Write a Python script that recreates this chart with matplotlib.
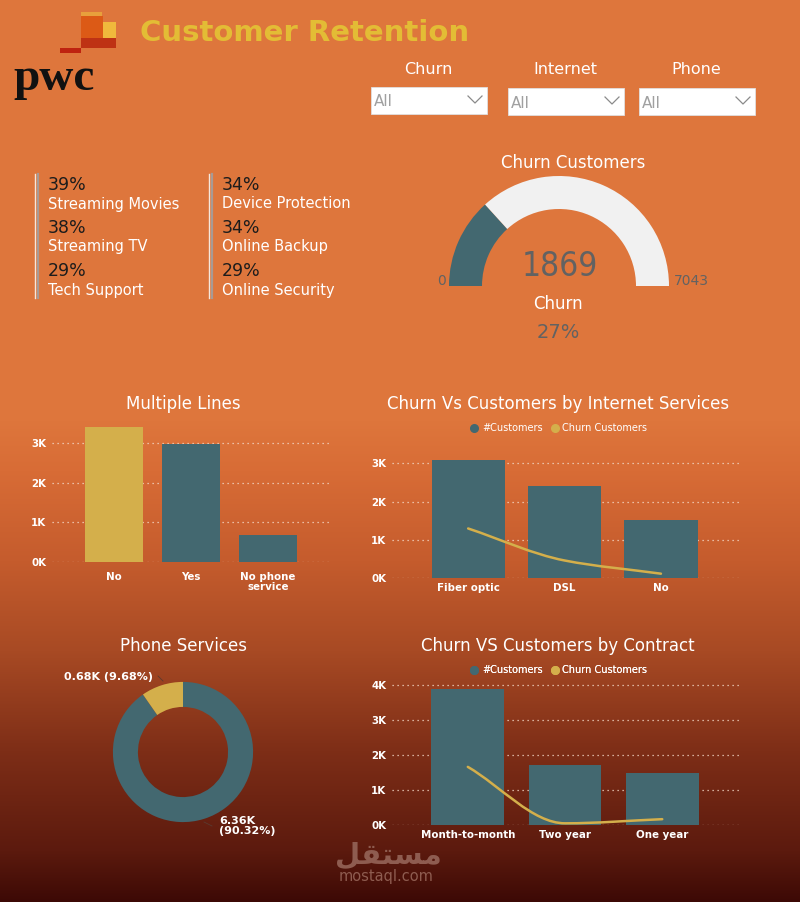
import numpy as np
import matplotlib
matplotlib.use("Agg")
import matplotlib.pyplot as plt
from matplotlib.patches import Wedge, Rectangle, PathPatch
from matplotlib.path import Path
from matplotlib.lines import Line2D
from matplotlib.ticker import FuncFormatter, MultipleLocator

W, H = 800, 902

# ---- data ----
kpi_left = [("39%", "Streaming Movies"), ("38%", "Streaming TV"), ("29%", "Tech Support")]
kpi_right = [("34%", "Device Protection"), ("34%", "Online Backup"), ("29%", "Online Security")]

slicers = ["Churn", "Internet", "Phone"]

churn_customers = 1869
total_customers = 7043
churn_rate = "27%"

ml_cats = ["No", "Yes", "No phone\nservice"]
ml_vals = [3390, 2971, 682]

inet_cats = ["Fiber optic", "DSL", "No"]
inet_customers = [3096, 2421, 1526]
inet_churn = [1297, 459, 113]

phone_vals = [6361, 682]  # Yes, No

contract_cats = ["Month-to-month", "Two year", "One year"]
contract_customers = [3875, 1695, 1473]
contract_churn = [1655, 48, 166]

TEAL = "#436870"
GOLD = "#D4AF4B"
WHITE = "#FFFFFF"
GREY = "#626262"


def rect(x0, y0, x1, y1):
    return [x0 / W, 1 - y1 / H, (x1 - x0) / W, (y1 - y0) / H]


def smooth_line(ax, xs, ys, color):
    # monotone cubic drawn as bezier segments
    xs = np.asarray(xs, float)
    ys = np.asarray(ys, float)
    d = np.diff(ys) / np.diff(xs)
    m = np.zeros(len(ys))
    m[0], m[-1] = d[0], d[-1]
    for i in range(1, len(ys) - 1):
        if d[i - 1] * d[i] <= 0:
            m[i] = 0
        else:
            m[i] = 2 * d[i - 1] * d[i] / (d[i - 1] + d[i])
    verts = [(xs[0], ys[0])]
    codes = [Path.MOVETO]
    for i in range(len(xs) - 1):
        h = (xs[i + 1] - xs[i]) / 3
        verts += [(xs[i] + h, ys[i] + m[i] * h),
                  (xs[i + 1] - h, ys[i + 1] - m[i + 1] * h),
                  (xs[i + 1], ys[i + 1])]
        codes += [Path.CURVE4] * 3
    ax.add_patch(PathPatch(Path(verts, codes), fill=False, edgecolor=color,
                           lw=1.8, capstyle="round", zorder=4))


def kfmt(v, pos):
    return f"{v / 1000:.0f}K"


def style_bar_ax(ax, ylim, step, xlim, cats, xpad):
    ax.set_facecolor("none")
    for s in ax.spines.values():
        s.set_visible(False)
    ax.set_ylim(*ylim)
    ax.set_xlim(*xlim)
    ax.yaxis.set_major_locator(MultipleLocator(step))
    ax.yaxis.set_major_formatter(FuncFormatter(kfmt))
    ax.grid(axis="y", color="#F3D9C8", linestyle=(0, (1, 3)), lw=0.9)
    ax.set_axisbelow(True)
    ax.set_xticks(range(len(cats)))
    ax.set_xticklabels(cats, linespacing=1.0)
    ax.tick_params(length=0, colors=WHITE, labelsize=7.4)
    ax.tick_params(axis="x", pad=xpad)
    ax.tick_params(axis="y", pad=4)
    for lab in ax.get_xticklabels() + ax.get_yticklabels():
        lab.set_fontweight("bold")


fig = plt.figure(figsize=(W / 100, H / 100), dpi=100)

# ---- background + pixel overlay ----
ov = fig.add_axes([0, 0, 1, 1])
ov.set_xlim(0, W)
ov.set_ylim(H, 0)
ov.axis("off")
stops_y = [0, 420, 470, 560, 650, 750, 850, 902]
stops_c = np.array([(222, 118, 60), (222, 118, 60), (216, 108, 54), (197, 92, 45),
                    (168, 74, 36), (126, 46, 23), (92, 26, 14), (60, 9, 5)]) / 255
yy = np.arange(H)
grad = np.stack([np.interp(yy, stops_y, stops_c[:, k]) for k in range(3)], axis=-1)
ov.imshow(grad[:, None, :], extent=[0, W, H, 0], aspect="auto", zorder=0)

# ---- logo ----
for (x0, y0, x1, y1, c) in [(81, 12, 102, 16, "#E8A03C"), (81, 16, 103, 38, "#DC5A16"),
                            (103, 22, 116, 38, "#F0B93C"), (81, 38, 116, 48, "#BE3214"),
                            (60, 48, 81, 53, "#BE2310")]:
    ov.add_patch(Rectangle((x0, y0), x1 - x0, y1 - y0, color=c, lw=0, zorder=2))
ov.text(13, 79, "pwc", fontsize=34, fontweight="bold", family="Liberation Serif",
        color="#111111", va="center", ha="left", zorder=3)
ov.text(140, 33, "Customer Retention", fontsize=21, fontweight="bold", color="#E3BC35",
        va="center", ha="left", zorder=3)

# ---- slicers ----
slicer_x = [(371, 487, 87), (508, 624, 88), (639, 755, 88)]
for name, (x0, x1, y0) in zip(slicers, slicer_x):
    ov.text((x0 + x1) / 2 - 1, 70, name, fontsize=11.5, color=WHITE, ha="center", va="center", zorder=3)
    ov.add_patch(Rectangle((x0, y0), x1 - x0, 27, facecolor=WHITE, edgecolor="#E0E0E0", lw=0.6, zorder=2))
    ov.text(x0 + 3, y0 + 15, "All", fontsize=11, color="#A0A0A0", ha="left", va="center", zorder=3)
    ov.plot([x1 - 19, x1 - 12, x1 - 5], [y0 + 9, y0 + 16, y0 + 9], color="#8A8A8A", lw=0.9, zorder=3)

# ---- KPI cards ----
for x, items in [(48, kpi_left), (222, kpi_right)]:
    ov.plot([x - 13, x - 13], [174, 298], color="#F6E7DC", lw=1.0, zorder=2)
    ov.plot([x - 10, x - 10], [174, 298], color="#A89A94", lw=1.6, zorder=2)
    for i, (pct, lab) in enumerate(items):
        y = 185 + i * 43
        ov.text(x, y, pct, fontsize=12.5, color="#1C1C1C", ha="left", va="center", zorder=3)
        ov.text(x, y + 19, lab, fontsize=10.5, color=WHITE, ha="left", va="center", zorder=3)

# ---- gauge ----
cx, cy, r, wdt = 559, 286, 110, 33
frac = churn_customers / total_customers
ov.add_patch(Wedge((cx, cy), r, 180, 180 + 180 * frac, width=wdt, color=TEAL, lw=0, zorder=2))
ov.add_patch(Wedge((cx, cy), r, 180 + 180 * frac, 360, width=wdt, color="#F1F1F1", lw=0, zorder=2))
ov.text(573, 163, "Churn Customers", fontsize=12, color=WHITE, ha="center", va="center", zorder=3)
ov.text(560, 267, f"{churn_customers}", fontsize=24, family="DejaVu Sans", fontstretch="condensed",
        fontweight="light", color=GREY, ha="center", va="center", zorder=3)
ov.text(442, 281, "0", fontsize=10, color=GREY, ha="center", va="center", zorder=3)
ov.text(691, 281, f"{total_customers}", fontsize=10, color=GREY, ha="center", va="center", zorder=3)
ov.text(558, 304, "Churn", fontsize=12, color=WHITE, ha="center", va="center", zorder=3)
ov.text(558, 332, churn_rate, fontsize=14, color=GREY, ha="center", va="center", zorder=3)

# ---- Multiple Lines ----
ov.text(183, 404, "Multiple Lines", fontsize=12, color=WHITE, ha="center", va="center", zorder=3)
ax1 = fig.add_axes(rect(52, 423, 332, 562))
ml_colors = [GOLD, TEAL, TEAL]
ax1.bar(range(len(ml_vals)), ml_vals, width=0.75, color=ml_colors, zorder=3)
style_bar_ax(ax1, (0, 3500), 1000, (-0.8, 2.83), ml_cats, 7)

# ---- Internet services ----
ov.text(558, 404, "Churn Vs Customers by Internet Services", fontsize=12, color=WHITE,
        ha="center", va="center", zorder=3)
ax2 = fig.add_axes(rect(392, 452, 740, 578))
ax2.bar(range(len(inet_customers)), inet_customers, width=0.76, color=TEAL, zorder=3)
smooth_line(ax2, range(len(inet_churn)), inet_churn, GOLD)
style_bar_ax(ax2, (0, 3300), 1000, (-0.79, 2.82), inet_cats, 3.5)

# ---- Contract ----
ov.text(558, 646, "Churn VS Customers by Contract", fontsize=12, color=WHITE,
        ha="center", va="center", zorder=3)
ax3 = fig.add_axes(rect(392, 681, 740, 825))
ax3.bar(range(len(contract_customers)), contract_customers, width=0.75, color=TEAL, zorder=3)
smooth_line(ax3, range(len(contract_churn)), contract_churn, GOLD)
style_bar_ax(ax3, (0, 4100), 1000, (-0.78, 2.8), contract_cats, 3.5)

# legends
handles = [Line2D([], [], marker="o", ls="", color=TEAL, markersize=5.5, label="#Customers"),
           Line2D([], [], marker="o", ls="", color=GOLD, markersize=5.5, label="Churn Customers")]
for ly in (428, 670):
    leg = ov.legend(handles=handles, loc="center", bbox_to_anchor=(556, ly),
                    bbox_transform=ov.transData, ncol=2, frameon=False, fontsize=7,
                    handletextpad=-0.2, columnspacing=0.2, borderpad=0)
    for t in leg.get_texts():
        t.set_color(WHITE)
    ov.add_artist(leg)

# ---- Phone services donut ----
ov.text(183, 646, "Phone Services", fontsize=12, color=WHITE, ha="center", va="center", zorder=3)
ax4 = fig.add_axes(rect(108, 677, 258, 827))
ax4.pie(phone_vals, colors=[TEAL, GOLD], startangle=90, counterclock=False,
        wedgeprops=dict(width=0.357, linewidth=0))
ax4.set_xlim(-1.07, 1.07)
ax4.set_ylim(-1.07, 1.07)
ax4.set_aspect("equal")
tot = sum(phone_vals)
ov.text(64, 677, f"{phone_vals[1] / 1000:.2f}K ({phone_vals[1] / tot * 100:.2f}%)",
        fontsize=8, fontweight="bold", color=WHITE, ha="left", va="center", zorder=3)
ov.plot([158, 163], [676, 681], color="#5A3A30", lw=0.6, zorder=3)
ov.text(219, 826, f"{phone_vals[0] / 1000:.2f}K\n({phone_vals[0] / tot * 100:.2f}%)",
        fontsize=8, fontweight="bold", color=WHITE, ha="left", va="center",
        linespacing=1.05, zorder=3)
ov.plot([204, 212], [822, 826], color="#5A3A30", lw=0.6, zorder=3)

# ---- watermark ----
ov.text(388, 856, "\ufede\ufed8\ufe98\ufeb4\ufee3", fontsize=21, fontweight="bold",
        color="#8E5C50", ha="center", va="center", zorder=3, family="DejaVu Sans")
ov.text(386, 876, "mostaql.com", fontsize=10.5, color="#8E5C50", ha="center", va="center", zorder=3)

fig.savefig("out.png", dpi=100)
